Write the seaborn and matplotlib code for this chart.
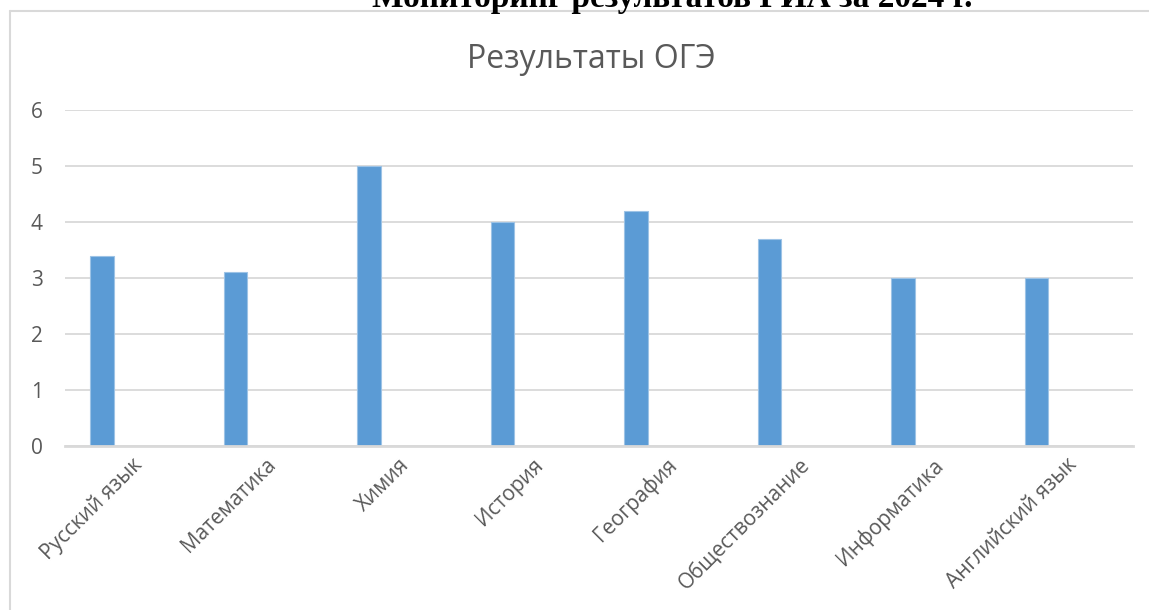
import matplotlib
matplotlib.use("Agg")
import matplotlib.pyplot as plt
from matplotlib.lines import Line2D
import seaborn as sns
import pandas as pd

subjects = ["Русский язык", "Математика", "Химия", "История", "География",
            "Обществознание", "Информатика", "Английский язык"]
scores = [3.4, 3.1, 5.0, 4.0, 4.2, 3.7, 3.0, 3.0]
y_ticks = [0, 1, 2, 3, 4, 5, 6]
chart_title = "Результаты ОГЭ"
page_title = "Мониторинг результатов ГИА за 2024 г."

df = pd.DataFrame({"subject": subjects, "score": scores})

sns.set_style("white")
plt.rcParams["font.family"] = ["Open Sans", "DejaVu Sans"]

W, H = 1149, 610
fig = plt.figure(figsize=(W / 100, H / 100), dpi=100)
ax = fig.add_axes([65 / W, 1 - 446 / H, (1133 - 65) / W, (446 - 110) / H])

bar_w = 0.176
shift = -0.223
sns.barplot(data=df, x="subject", y="score", color="#5B9BD5", width=bar_w,
            edgecolor="#9DC3E6", linewidth=0.8, saturation=1, ax=ax)
for p in ax.patches:
    p.set_x(p.get_x() + shift)

ax.set_xlim(-0.5, len(subjects) - 0.5)
ax.set_ylim(0, 6)
ax.set_yticks(y_ticks)
ax.set_yticklabels([str(v) for v in y_ticks])
ax.yaxis.grid(True, color="#d9d9d9", linewidth=1.3)
ax.set_axisbelow(True)
for s in ["top", "right", "left"]:
    ax.spines[s].set_visible(False)
ax.spines["bottom"].set_color("#d9d9d9")
ax.spines["bottom"].set_linewidth(2)
ax.tick_params(axis="both", length=0, colors="#595959")
ax.tick_params(axis="y", pad=16, labelsize=15)
ax.tick_params(axis="x", pad=6, labelsize=15)
ax.set_xlabel("")
ax.set_ylabel("")
for lab in ax.get_xticklabels():
    lab.set_rotation(45)
    lab.set_ha("right")
    lab.set_va("top")
    lab.set_rotation_mode("anchor")

fig.text(591 / W, 1 - 59 / H, chart_title, ha="center", va="center",
         fontsize=23, color="#595959")

fig.text(672 / W, 1 - 7 / H, page_title, ha="center", va="baseline",
         fontsize=24, fontweight="bold", family=["Liberation Serif"], color="black")

fig.add_artist(Line2D([10 / W, 10 / W], [0, 1 - 11 / H], transform=fig.transFigure,
                      color="#d9d9d9", linewidth=1.5))
fig.add_artist(Line2D([10 / W, 1], [1 - 11 / H, 1 - 11 / H], transform=fig.transFigure,
                      color="#d9d9d9", linewidth=1.5))

fig.savefig("out.png", dpi=100, facecolor="white")
